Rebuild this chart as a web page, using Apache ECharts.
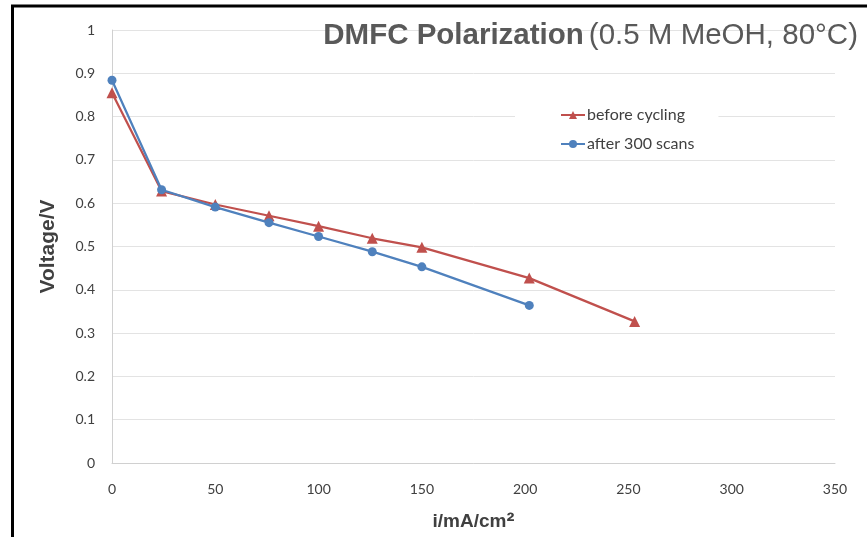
<!DOCTYPE html>
<html>
<head>
<meta charset="utf-8">
<script src="https://cdn.jsdelivr.net/npm/echarts@6/dist/echarts.min.js"></script>
<style>
  html, body { margin: 0; padding: 0; background: #fff; }
  #chart { width: 867px; height: 537px; }
</style>
</head>
<body>
<div id="chart"></div>
<script>
// Current density (mA/cm²) and cell voltage (V) for each run
const currentBefore = [0, 24, 50, 76, 100, 126, 150, 202, 253];
const voltageBefore = [0.855, 0.628, 0.597, 0.571, 0.547, 0.519, 0.498, 0.427, 0.327];
const currentAfter = [0, 24, 50, 76, 100, 126, 150, 202];
const voltageAfter = [0.884, 0.631, 0.591, 0.555, 0.523, 0.488, 0.453, 0.364];

const seriesNames = ['before cycling', 'after 300 scans'];
const xTicks = { min: 0, max: 350, interval: 50 };
const yTicks = { min: 0, max: 1, interval: 0.1 };

const pair = (xs, ys) => xs.map((x, i) => [x, ys[i]]);

const chart = echarts.init(document.getElementById('chart'));
const tickFont = 'Lato, "Open Sans", sans-serif';
const headFont = 'Liberation Sans, Arial, sans-serif';

chart.setOption({
  animation: false,
  backgroundColor: '#fff',
  title: {
    text: '{b|DMFC Polarization} {r|(0.5 M MeOH, 80°C)}',
    right: 4,
    top: 16,
    textStyle: {
      rich: {
        b: { fontFamily: headFont, fontWeight: 'bold', fontSize: 29.5, color: '#595959' },
        r: { fontFamily: headFont, fontWeight: 'normal', fontSize: 29.5, color: '#595959' }
      }
    }
  },
  legend: {
    orient: 'vertical',
    left: 515,
    top: 99,
    padding: [8, 24, 8, 45],
    backgroundColor: '#fff',
    itemWidth: 24,
    itemHeight: 10,
    itemGap: 13,
    textStyle: { fontFamily: tickFont, fontSize: 16, color: '#404040', padding: [0, 0, 0, -3] },
    data: seriesNames
  },
  grid: { left: 112, right: 32, top: 30, bottom: 74, outerBoundsMode: 'none', containLabel: false },
  xAxis: {
    type: 'value',
    min: xTicks.min, max: xTicks.max, interval: xTicks.interval,
    name: '{m|i/mA/cm}{s|²}',
    nameLocation: 'middle',
    nameGap: 47,
    nameTextStyle: {
      rich: {
        m: { fontFamily: headFont, fontWeight: 'bold', fontSize: 19, color: '#404040' },
        s: { fontFamily: headFont, fontWeight: 'bold', fontSize: 24, color: '#404040' }
      }
    },
    axisLine: { show: true, lineStyle: { color: '#d0d0d0', width: 1 } },
    axisTick: { show: false },
    axisLabel: { fontFamily: tickFont, fontSize: 14, color: '#404040', margin: 19 },
    splitLine: { show: false }
  },
  yAxis: {
    type: 'value',
    min: yTicks.min, max: yTicks.max, interval: yTicks.interval,
    name: 'Voltage/V',
    nameLocation: 'middle',
    nameGap: 53,
    nameTextStyle: { fontFamily: headFont, fontWeight: 'bold', fontSize: 21, color: '#404040' },
    axisLine: { show: true, lineStyle: { color: '#d0d0d0', width: 1 } },
    axisTick: { show: false },
    axisLabel: { fontFamily: tickFont, fontSize: 14, color: '#404040', margin: 17 },
    splitLine: { show: true, lineStyle: { color: '#e3e3e3', width: 1 } }
  },
  series: [
    {
      name: seriesNames[0],
      type: 'line',
      data: pair(currentBefore, voltageBefore),
      symbol: 'triangle',
      symbolSize: 11,
      lineStyle: { color: '#C0504D', width: 2.25 },
      itemStyle: { color: '#C0504D' },
      z: 2
    },
    {
      name: seriesNames[1],
      type: 'line',
      data: pair(currentAfter, voltageAfter),
      symbol: 'circle',
      symbolSize: 9,
      lineStyle: { color: '#4F81BD', width: 2.25 },
      itemStyle: { color: '#4F81BD' },
      z: 3
    }
  ],
  graphic: [
    { type: 'line', shape: { x1: 11, y1: 6, x2: 867, y2: 6 }, style: { stroke: '#000', lineWidth: 3 } },
    { type: 'line', shape: { x1: 12.5, y1: 5, x2: 12.5, y2: 537 }, style: { stroke: '#000', lineWidth: 3 } }
  ]
});
</script>
</body>
</html>
